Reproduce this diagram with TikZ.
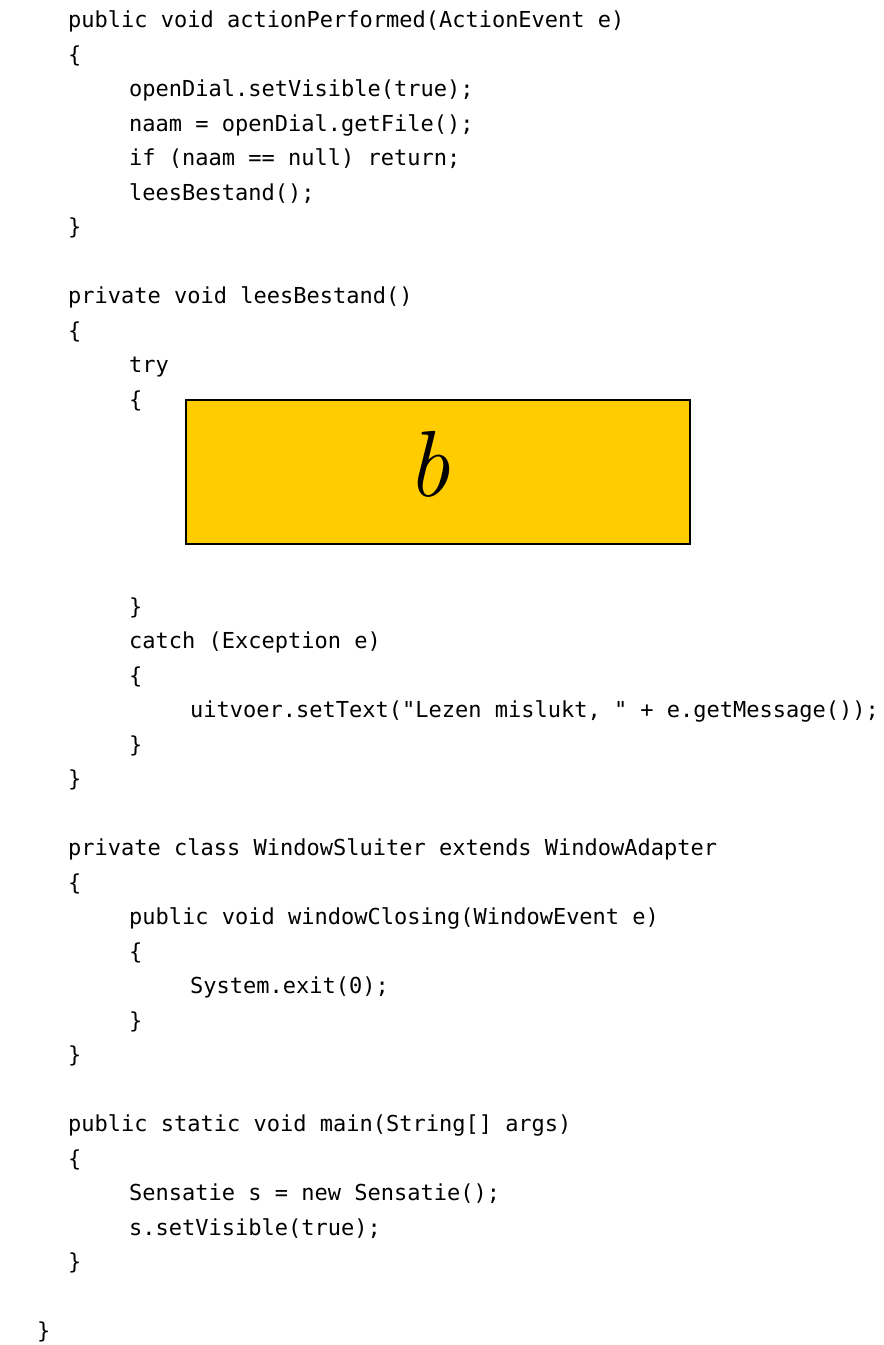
\documentclass[tikz,border=0pt]{standalone}
\usepackage{fontspec}
\setmonofont{DejaVu Sans Mono}
\definecolor{boxyellow}{HTML}{FFCC00}
\begin{document}
\begin{tikzpicture}[x=1pt,y=-1pt,
  code/.style={anchor=base west,inner sep=0pt,font=\fontsize{22}{26}\ttfamily},
  bbox/.style={draw=black,line width=1.4pt,fill=boxyellow}]
\useasboundingbox (0,0) rectangle (884,1345);
\fill[white] (0,0) rectangle (884,1345);
\def\LA{68}\def\LB{129}\def\LC{190}\def\LZ{37}
\def\ln#1{27.5+(#1-1)*34.5}
\node[code] (l1)  at (\LA,{\ln{1}})  {public void actionPerformed(ActionEvent e)};
\node[code] (l2)  at (\LA,{\ln{2}})  {\{};
\node[code] (l3)  at (\LB,{\ln{3}})  {openDial.setVisible(true);};
\node[code] (l4)  at (\LB,{\ln{4}})  {naam = openDial.getFile();};
\node[code] (l5)  at (\LB,{\ln{5}})  {if (naam == null) return;};
\node[code] (l6)  at (\LB,{\ln{6}})  {leesBestand();};
\node[code] (l7)  at (\LA,{\ln{7}})  {\}};
\node[code] (l9)  at (\LA,{\ln{9}})  {private void leesBestand()};
\node[code] (l10) at (\LA,{\ln{10}}) {\{};
\node[code] (l11) at (\LB,{\ln{11}}) {try};
\node[code] (l12) at (\LB,{\ln{12}}) {\{};
\draw[bbox] (186,400) rectangle (690,544);
\node[inner sep=0pt,anchor=base,font=\fontsize{94}{100}\selectfont\itshape] (b) at (429,496) {b};
\node[code] (l18) at (\LB,{\ln{18}}) {\}};
\node[code] (l19) at (\LB,{\ln{19}}) {catch (Exception e)};
\node[code] (l20) at (\LB,{\ln{20}}) {\{};
\node[code] (l21) at (\LC,{\ln{21}}) {uitvoer.setText("Lezen mislukt, " + e.getMessage());};
\node[code] (l22) at (\LB,{\ln{22}}) {\}};
\node[code] (l23) at (\LA,{\ln{23}}) {\}};
\node[code] (l25) at (\LA,{\ln{25}}) {private class WindowSluiter extends WindowAdapter};
\node[code] (l26) at (\LA,{\ln{26}}) {\{};
\node[code] (l27) at (\LB,{\ln{27}}) {public void windowClosing(WindowEvent e)};
\node[code] (l28) at (\LB,{\ln{28}}) {\{};
\node[code] (l29) at (\LC,{\ln{29}}) {System.exit(0);};
\node[code] (l30) at (\LB,{\ln{30}}) {\}};
\node[code] (l31) at (\LA,{\ln{31}}) {\}};
\node[code] (l33) at (\LA,{\ln{33}}) {public static void main(String[] args)};
\node[code] (l34) at (\LA,{\ln{34}}) {\{};
\node[code] (l35) at (\LB,{\ln{35}}) {Sensatie s = new Sensatie();};
\node[code] (l36) at (\LB,{\ln{36}}) {s.setVisible(true);};
\node[code] (l37) at (\LA,{\ln{37}}) {\}};
\node[code] (l39) at (\LZ,{\ln{39}}) {\}};
\end{tikzpicture}
\end{document}
